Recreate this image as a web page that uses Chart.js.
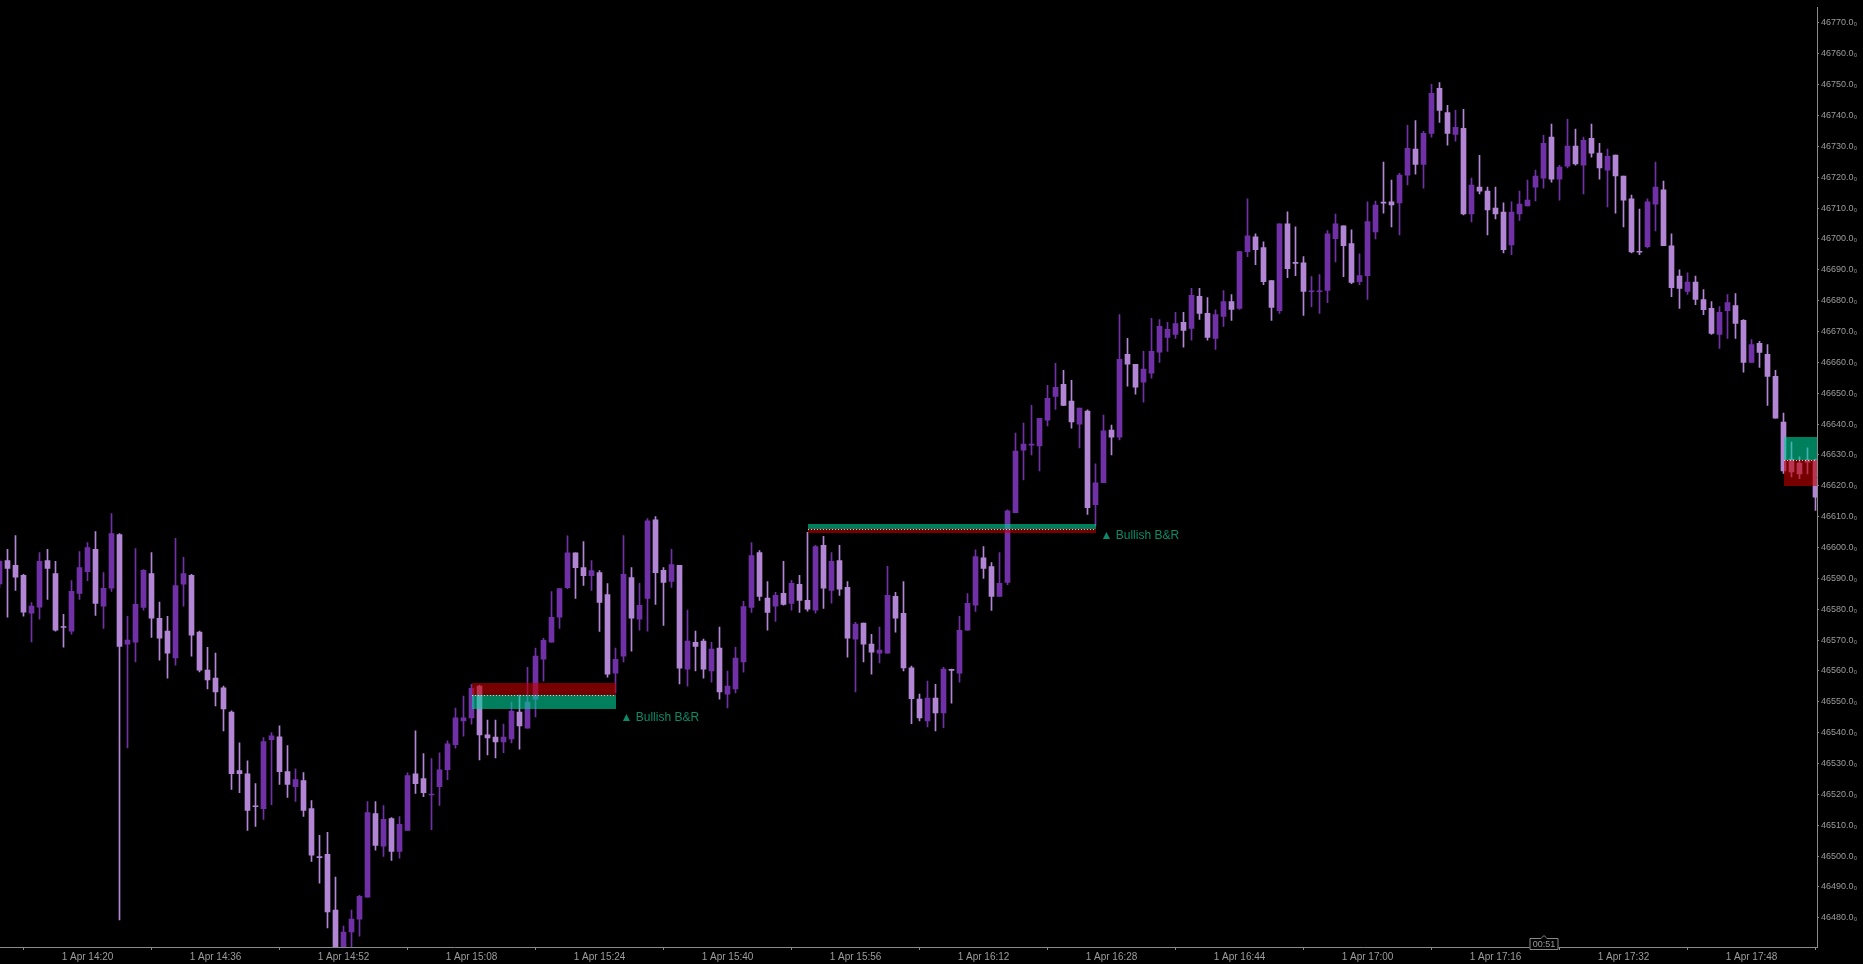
<!DOCTYPE html>
<html><head><meta charset="utf-8">
<script src="https://cdn.jsdelivr.net/npm/chart.js@4/dist/chart.umd.min.js"></script>
<style>html,body{margin:0;padding:0;background:#000;overflow:hidden}</style>
</head><body>
<canvas id="c" width="1863" height="964" style="display:block"></canvas>
<script>
// ---- data (1-minute bars, 1 Apr, starting 14:09) ----
const startMinute = 14 * 60 + 9;
const opens = [46588.2,46595.8,46594.2,46591.0,46578.7,46580.7,46595.8,46591.6,46574.2,46572.9,46585.1,
46592.2,46599.4,46581.0,46586.8,46604.2,46568.7,46569.3,46580.6,46591.6,46577.1,
46572.9,46564.2,46588.1,46591.0,46572.6,46560.3,46557.7,46554.5,46546.7,46527.7,
46526.7,46516.1,46515.4,46537.7,46538.7,46527.4,46522.5,46524.5,46515.4,46499.6,
46500.6,46482.5,46469.0,46475.4,46479.6,46486.7,46513.8,46503.2,46512.2,46501.5,
46508.3,46526.7,46525.1,46519.8,46522.5,46528.0,46536.1,46543.8,46544.8,46555.1,
46539.3,46538.6,46537.0,46538.0,46546.7,46541.5,46550.9,46563.8,46569.3,46577.4,
46587.0,46598.3,46593.5,46590.9,46591.9,46584.8,46559.3,46564.8,46590.3,46576.8,
46583.5,46609.0,46592.6,46589.0,46594.2,46560.6,46569.3,46569.7,46560.0,46567.4,
46552.5,46554.2,46562.9,46580.6,46598.4,46583.6,46581.0,46585.2,46581.9,46588.1,
46582.9,46579.7,46600.7,46586.1,46595.8,46587.1,46570.3,46575.5,46568.7,46565.8,
46565.8,46584.2,46578.7,46561.0,46550.9,46543.8,46551.2,46546.4,46560.3,46559.3,
46573.2,46581.3,46596.7,46593.8,46584.2,46588.7,46611.3,46631.6,46633.2,46632.9,
46641.3,46649.0,46652.9,46647.5,46640.0,46644.2,46613.9,46621.0,46638.1,46635.8,
46662.6,46659.4,46653.6,46656.5,46663.3,46668.1,46669.1,46673.0,46671.0,46681.4,
46675.9,46667.8,46674.9,46679.7,46677.5,46695.9,46700.7,46697.2,46686.5,46676.8,
46704.9,46692.2,46692.3,46682.9,46682.9,46683.3,46700.1,46704.3,46698.5,46686.2,
46688.1,46702.3,46711.7,46712.0,46711.7,46720.7,46729.1,46724.2,46734.2,46748.8,
46741.0,46733.9,46735.9,46708.1,46716.8,46715.5,46710.0,46708.7,46698.1,46708.1,
46710.7,46716.8,46719.7,46733.0,46719.4,46723.6,46730.1,46723.9,46732.6,46727.8,
46722.3,46727.2,46720.4,46713.0,46695.8,46697.5,46711.3,46715.9,46697.8,46688.0,
46683.0,46686.0,46680.4,46677.5,46669.1,46676.8,46678.4,46673.6,46660.0,46666.2,
46662.6,46655.5,46640.7,46628.7,46627.4,46628.4,46628.4];
const highs = [46596.0,46599.4,46603.9,46591.3,46582.2,46598.4,46599.4,46595.5,46578.4,46589.3,46598.7,
46601.6,46605.2,46591.9,46611.0,46604.5,46577.7,46599.7,46592.9,46598.4,46582.3,
46577.7,46603.0,46596.8,46591.3,46572.9,46567.7,46565.8,46555.1,46547.1,46536.7,
46530.9,46523.5,46538.4,46540.0,46542.2,46535.8,46528.3,46527.1,46518.0,46506.7,
46507.7,46493.2,46477.3,46482.5,46487.3,46517.7,46517.7,46516.4,46512.5,46512.8,
46527.0,46540.6,46533.2,46531.6,46533.5,46537.4,46548.0,46551.9,46555.7,46555.4,
46544.1,46544.1,46542.8,46549.9,46552.2,46561.2,46567.4,46570.6,46585.7,46586.7,
46603.8,46598.3,46601.9,46595.8,46592.5,46588.3,46567.4,46603.9,46593.5,46588.4,
46609.4,46610.0,46593.5,46599.4,46594.2,46579.7,46572.9,46570.3,46569.3,46574.2,
46560.0,46567.7,46582.6,46601.6,46599.0,46589.0,46585.5,46595.5,46589.4,46591.0,
46604.9,46600.7,46603.6,46598.4,46600.7,46589.0,46575.8,46575.5,46571.9,46574.2,
46593.9,46585.5,46589.0,46561.6,46552.5,46556.7,46555.7,46561.2,46560.6,46577.7,
46585.1,46599.3,46600.3,46595.1,46598.4,46612.2,46637.1,46640.3,46646.1,46641.9,
46652.6,46659.7,46657.4,46654.2,46645.2,46644.6,46627.1,46642.9,46639.7,46675.5,
46667.8,46659.4,46663.6,46674.3,46673.9,46673.0,46676.2,46676.2,46684.0,46684.0,
46681.0,46677.0,46683.3,46682.0,46695.9,46713.0,46701.7,46699.1,46686.5,46704.9,
46708.8,46703.9,46694.3,46687.8,46688.5,46702.7,46708.1,46704.3,46703.0,46695.2,
46712.0,46712.3,46724.9,46719.1,46721.3,46736.8,46738.4,46734.9,46750.1,46750.7,
46743.3,46741.7,46742.0,46719.7,46727.1,46716.8,46716.8,46711.7,46712.0,46715.5,
46719.1,46722.3,46733.6,46737.2,46723.9,46738.8,46735.6,46733.0,46737.2,46731.0,
46729.1,46727.2,46720.4,46714.2,46709.7,46713.0,46724.9,46718.8,46701.7,46690.0,
46689.0,46688.0,46683.6,46679.7,46678.1,46682.0,46682.3,46673.9,46667.4,46666.8,
46665.8,46657.4,46643.6,46634.2,46629.4,46632.3,46628.7];
const lows = [46587.0,46577.4,46586.1,46577.8,46569.4,46576.8,46583.2,46572.9,46567.7,46571.9,46583.2,
46589.3,46578.0,46573.8,46585.8,46479.3,46535.1,46562.9,46579.7,46570.9,46563.5,
46557.7,46561.9,46581.0,46564.8,46559.7,46554.2,46548.7,46540.6,46521.6,46520.6,
46508.3,46509.6,46511.9,46516.7,46523.2,46519.0,46517.7,46512.9,46498.3,46491.2,
46476.7,46466.0,46465.0,46469.9,46474.1,46486.7,46501.9,46499.9,46498.6,46499.3,
46508.3,46520.3,46519.3,46508.6,46516.4,46524.8,46535.0,46538.9,46542.8,46531.2,
46532.8,46531.8,46533.5,46536.7,46534.7,46541.5,46545.1,46556.7,46569.3,46573.8,
46586.7,46583.5,46587.7,46586.1,46572.8,46558.0,46553.0,46562.9,46566.4,46573.2,
46572.9,46581.6,46574.8,46587.1,46555.8,46555.1,46560.0,46557.7,46556.4,46550.9,
46548.0,46552.9,46559.6,46579.0,46582.9,46573.2,46576.1,46581.3,46579.7,46579.0,
46579.4,46578.7,46580.3,46582.0,46584.5,46564.5,46553.2,46562.9,46559.0,46562.6,
46565.8,46572.6,46560.0,46542.9,46543.8,46541.9,46540.6,46541.6,46549.6,46556.4,
46573.2,46579.3,46590.0,46579.6,46584.2,46588.0,46611.3,46621.9,46630.0,46624.8,
46639.4,46644.8,46646.0,46638.7,46632.3,46610.7,46607.0,46621.0,46630.0,46634.9,
46652.3,46649.7,46647.1,46654.9,46660.0,46663.6,46667.8,46664.9,46667.2,46673.9,
46667.2,46664.2,46671.7,46673.6,46677.2,46694.3,46691.7,46685.2,46673.6,46675.9,
46687.5,46688.1,46675.2,46678.1,46675.9,46679.4,46692.6,46687.8,46685.5,46685.2,
46680.4,46700.0,46708.4,46703.9,46701.3,46717.5,46721.0,46716.5,46733.0,46737.8,
46730.4,46731.7,46707.8,46705.5,46714.6,46701.3,46706.5,46695.5,46694.9,46706.0,
46710.7,46712.3,46716.5,46718.4,46712.6,46723.0,46723.9,46714.6,46726.5,46719.4,
46710.4,46708.4,46703.9,46695.5,46694.9,46697.1,46702.6,46697.8,46681.3,46677.5,
46682.0,46678.7,46675.5,46669.1,46664.5,46667.8,46667.8,46656.8,46660.0,46658.4,
46646.1,46641.9,46624.0,46622.9,46622.3,46623.9,46612.0];
const closes = [46595.5,46593.2,46590.4,46579.1,46581.0,46595.5,46593.2,46573.2,46574.1,46585.8,46593.5,
46600.0,46581.9,46586.8,46604.5,46568.0,46570.0,46581.6,46592.6,46577.1,46570.6,
46565.8,46587.7,46591.6,46571.6,46560.3,46557.1,46553.2,46547.7,46526.7,46526.7,
46514.8,46516.0,46537.1,46539.0,46527.4,46523.2,46524.8,46514.8,46500.3,46499.5,
46481.9,46470.0,46475.4,46479.6,46487.0,46514.1,46503.5,46511.9,46501.5,46510.3,
46526.1,46523.5,46520.6,46519.9,46528.0,46536.4,46544.8,46544.8,46554.4,46539.3,
46538.3,46537.0,46538.6,46547.0,46542.2,46549.9,46564.8,46569.9,46577.4,46586.7,
46598.3,46593.5,46590.9,46592.5,46582.2,46559.0,46563.8,46591.3,46577.1,46581.3,
46608.7,46591.9,46588.7,46594.5,46560.9,46569.7,46568.0,46560.6,46567.1,46553.2,
46555.1,46564.2,46580.9,46597.4,46584.2,46579.0,46584.5,46581.6,46588.4,46582.9,
46580.0,46600.3,46586.8,46595.5,46586.5,46570.6,46575.2,46568.7,46566.1,46566.8,
46584.5,46577.1,46561.0,46551.0,46544.8,46551.2,46546.4,46560.6,46560.2,46573.2,
46581.9,46597.1,46593.2,46584.2,46588.4,46611.9,46631.3,46633.5,46633.3,46641.9,
46648.4,46651.9,46646.1,46640.7,46645.2,46612.9,46621.0,46637.8,46635.8,46661.0,
46659.4,46652.0,46657.8,46663.6,46671.7,46670.7,46672.6,46670.4,46681.7,46675.9,
46668.1,46675.5,46679.7,46677.2,46695.9,46701.0,46696.5,46686.2,46677.8,46704.9,
46690.4,46692.1,46683.0,46683.0,46683.0,46701.7,46704.9,46697.8,46685.9,46688.1,
46705.6,46711.0,46711.6,46711.0,46720.7,46729.4,46724.2,46734.2,46747.2,46741.7,
46734.2,46736.2,46708.1,46717.5,46715.5,46709.4,46708.1,46696.5,46708.7,46711.3,
46712.6,46720.4,46731.0,46719.4,46723.3,46730.1,46724.3,46732.0,46727.8,46723.0,
46726.8,46720.4,46712.6,46695.8,46695.7,46712.0,46716.8,46697.8,46684.2,46684.0,
46686.0,46680.4,46677.1,46669.4,46676.2,46679.4,46672.6,46660.0,46665.8,46663.2,
46655.5,46641.9,46624.8,46624.5,46623.9,46627.7,46616.3];
const xTickLabels = ["1 Apr 14:20","1 Apr 14:36","1 Apr 14:52","1 Apr 15:08","1 Apr 15:24","1 Apr 15:40","1 Apr 15:56","1 Apr 16:12","1 Apr 16:28","1 Apr 16:44","1 Apr 17:00","1 Apr 17:16","1 Apr 17:32","1 Apr 17:48"];
const yTickStep = 10;
// break & retest zones: start bar, end bar (null = live), upper / middle / lower price
const zoneStart = ["15:08","15:50","17:52"];
const zoneEnd   = ["15:26","16:26",null];
const zoneUpper = [46556.1,46607.5,46635.7];
const zoneMid   = [46552.3,46606.1,46628.4];
const zoneLower = [46547.8,46604.6,46619.8];
const zoneTopIsRed = [true,false,false];
const signalText = ["▲ Bullish B&R","▲ Bullish B&R"];
const signalTime = ["15:26","16:26"];
const signalPrice = [46544.8,46603.9];
const countdownText = "00:51";
const countdownTime = "17:22";

// ---- derived ----
const times = opens.map((_, i) => {
  const m = startMinute + i;
  return String(Math.floor(m / 60)).padStart(2, "0") + ":" + String(m % 60).padStart(2, "0");
});
const idxOf = t => times.indexOf(t);
const tickIdx = xTickLabels.map(l => idxOf(l.split(" ")[2]));
const DARK = "#7131a6", LIGHT = "#b286d4";
const cols = opens.map((o, i) => closes[i] >= o ? DARK : LIGHT);
const bodies = opens.map((o, i) => ({x: i, y: [o, closes[i]]}));
const wicks = opens.map((o, i) => ({x: i, y: [lows[i], highs[i]]}));

const zonesPlugin = {
  id: "zones",
  afterDatasetsDraw(chart) {
    const {ctx, chartArea: a, scales: {x, y}} = chart;
    ctx.save();
    ctx.beginPath(); ctx.rect(a.left, a.top, a.right - a.left, a.bottom - a.top); ctx.clip();
    const RED = "rgba(190,0,0,0.62)", GREEN = "rgba(0,205,150,0.62)";
    for (let z = 0; z < zoneStart.length; z++) {
      const x0 = Math.round(x.getPixelForValue(idxOf(zoneStart[z])));
      const x1 = zoneEnd[z] ? Math.round(x.getPixelForValue(idxOf(zoneEnd[z]))) : a.right;
      const yu = Math.round(y.getPixelForValue(zoneUpper[z]));
      const ym = Math.round(y.getPixelForValue(zoneMid[z]));
      const yl = Math.round(y.getPixelForValue(zoneLower[z]));
      ctx.fillStyle = zoneTopIsRed[z] ? RED : GREEN;
      ctx.fillRect(x0, yu, x1 - x0, ym - yu);
      ctx.fillStyle = zoneTopIsRed[z] ? GREEN : RED;
      ctx.fillRect(x0, ym, x1 - x0, yl - ym);
      ctx.strokeStyle = "rgba(220,220,220,0.9)";
      ctx.lineWidth = 1;
      ctx.setLineDash([1, 2]);
      ctx.beginPath(); ctx.moveTo(x0, ym + 0.5); ctx.lineTo(x1, ym + 0.5); ctx.stroke();
      ctx.setLineDash([]);
    }
    ctx.restore();
    ctx.save();
    ctx.font = '12px "Liberation Sans", Arial, sans-serif';
    ctx.fillStyle = "#0c8a69";
    ctx.textBaseline = "middle";
    for (let s = 0; s < signalText.length; s++) {
      const px = x.getPixelForValue(idxOf(signalTime[s])) + 5;
      const py = y.getPixelForValue(signalPrice[s]);
      ctx.fillText(signalText[s], px, py);
    }
    ctx.restore();
  },
  afterDraw(chart) {
    const {ctx, chartArea: a, scales: {x}} = chart;
    const cx = Math.round(x.getPixelForValue(idxOf(countdownTime)));
    ctx.save();
    ctx.font = '9px "Liberation Sans", Arial, sans-serif';
    const w = Math.ceil(ctx.measureText(countdownText).width) + 6;
    const top = a.bottom - 9, h = 12;
    ctx.fillStyle = "#000";
    ctx.fillRect(cx - w / 2, top, w, h);
    ctx.strokeStyle = "#8a8a8a"; ctx.lineWidth = 1;
    ctx.beginPath();
    ctx.moveTo(cx - w / 2 + 0.5, top + 0.5);
    ctx.lineTo(cx - 3, top + 0.5); ctx.lineTo(cx, top - 2.5); ctx.lineTo(cx + 3, top + 0.5);
    ctx.lineTo(cx + w / 2 - 0.5, top + 0.5);
    ctx.lineTo(cx + w / 2 - 0.5, top + h - 0.5); ctx.lineTo(cx - w / 2 + 0.5, top + h - 0.5);
    ctx.closePath(); ctx.stroke();
    ctx.fillStyle = "#9c9c9c"; ctx.textAlign = "center"; ctx.textBaseline = "middle";
    ctx.fillText(countdownText, cx, top + h / 2 + 0.5);
    ctx.restore();
  }
};

new Chart(document.getElementById("c"), {
  type: "bar",
  data: {
    datasets: [
      {data: bodies, backgroundColor: cols, barThickness: 5, grouped: false, minBarLength: 1, borderWidth: 0},
      {data: wicks, backgroundColor: cols, barThickness: 1, grouped: false, borderWidth: 0}
    ]
  },
  options: {
    responsive: false,
    animation: false,
    devicePixelRatio: 1,
    layout: {padding: 0},
    plugins: {legend: {display: false}, tooltip: {enabled: false}},
    scales: {
      x: {
        type: "linear", min: 0.0625, max: 227.1875, offset: false,
        afterFit(s) { s.height = 17; },
        afterBuildTicks(s) { s.ticks = tickIdx.map(v => ({value: v})); },
        ticks: {
          autoSkip: false, maxRotation: 0, minRotation: 0, padding: 1,
          color: "#9c9c9c", font: {family: '"Liberation Sans", Arial, sans-serif', size: 10},
          callback: (v) => { const k = tickIdx.indexOf(v); return k >= 0 ? xTickLabels[k] : ""; }
        },
        grid: {display: true, drawOnChartArea: false, drawTicks: true, tickLength: 3, color: "#8a8a8a"},
        border: {display: true, color: "#8a8a8a"}
      },
      y: {
        type: "linear", position: "right", min: 46470.55, max: 46775.05,
        afterFit(s) { s.width = 46; },
        ticks: {
          stepSize: yTickStep, includeBounds: false, padding: 2,
          color: "#9c9c9c", font: {family: '"Liberation Sans", Arial, sans-serif', size: 9},
          callback: (v) => v.toFixed(1) + "\u2080"
        },
        grid: {display: true, drawOnChartArea: false, drawTicks: true, tickLength: 2, color: "#8a8a8a"},
        border: {display: true, color: "#8a8a8a"}
      }
    }
  },
  plugins: [zonesPlugin]
});
</script>
</body></html>
